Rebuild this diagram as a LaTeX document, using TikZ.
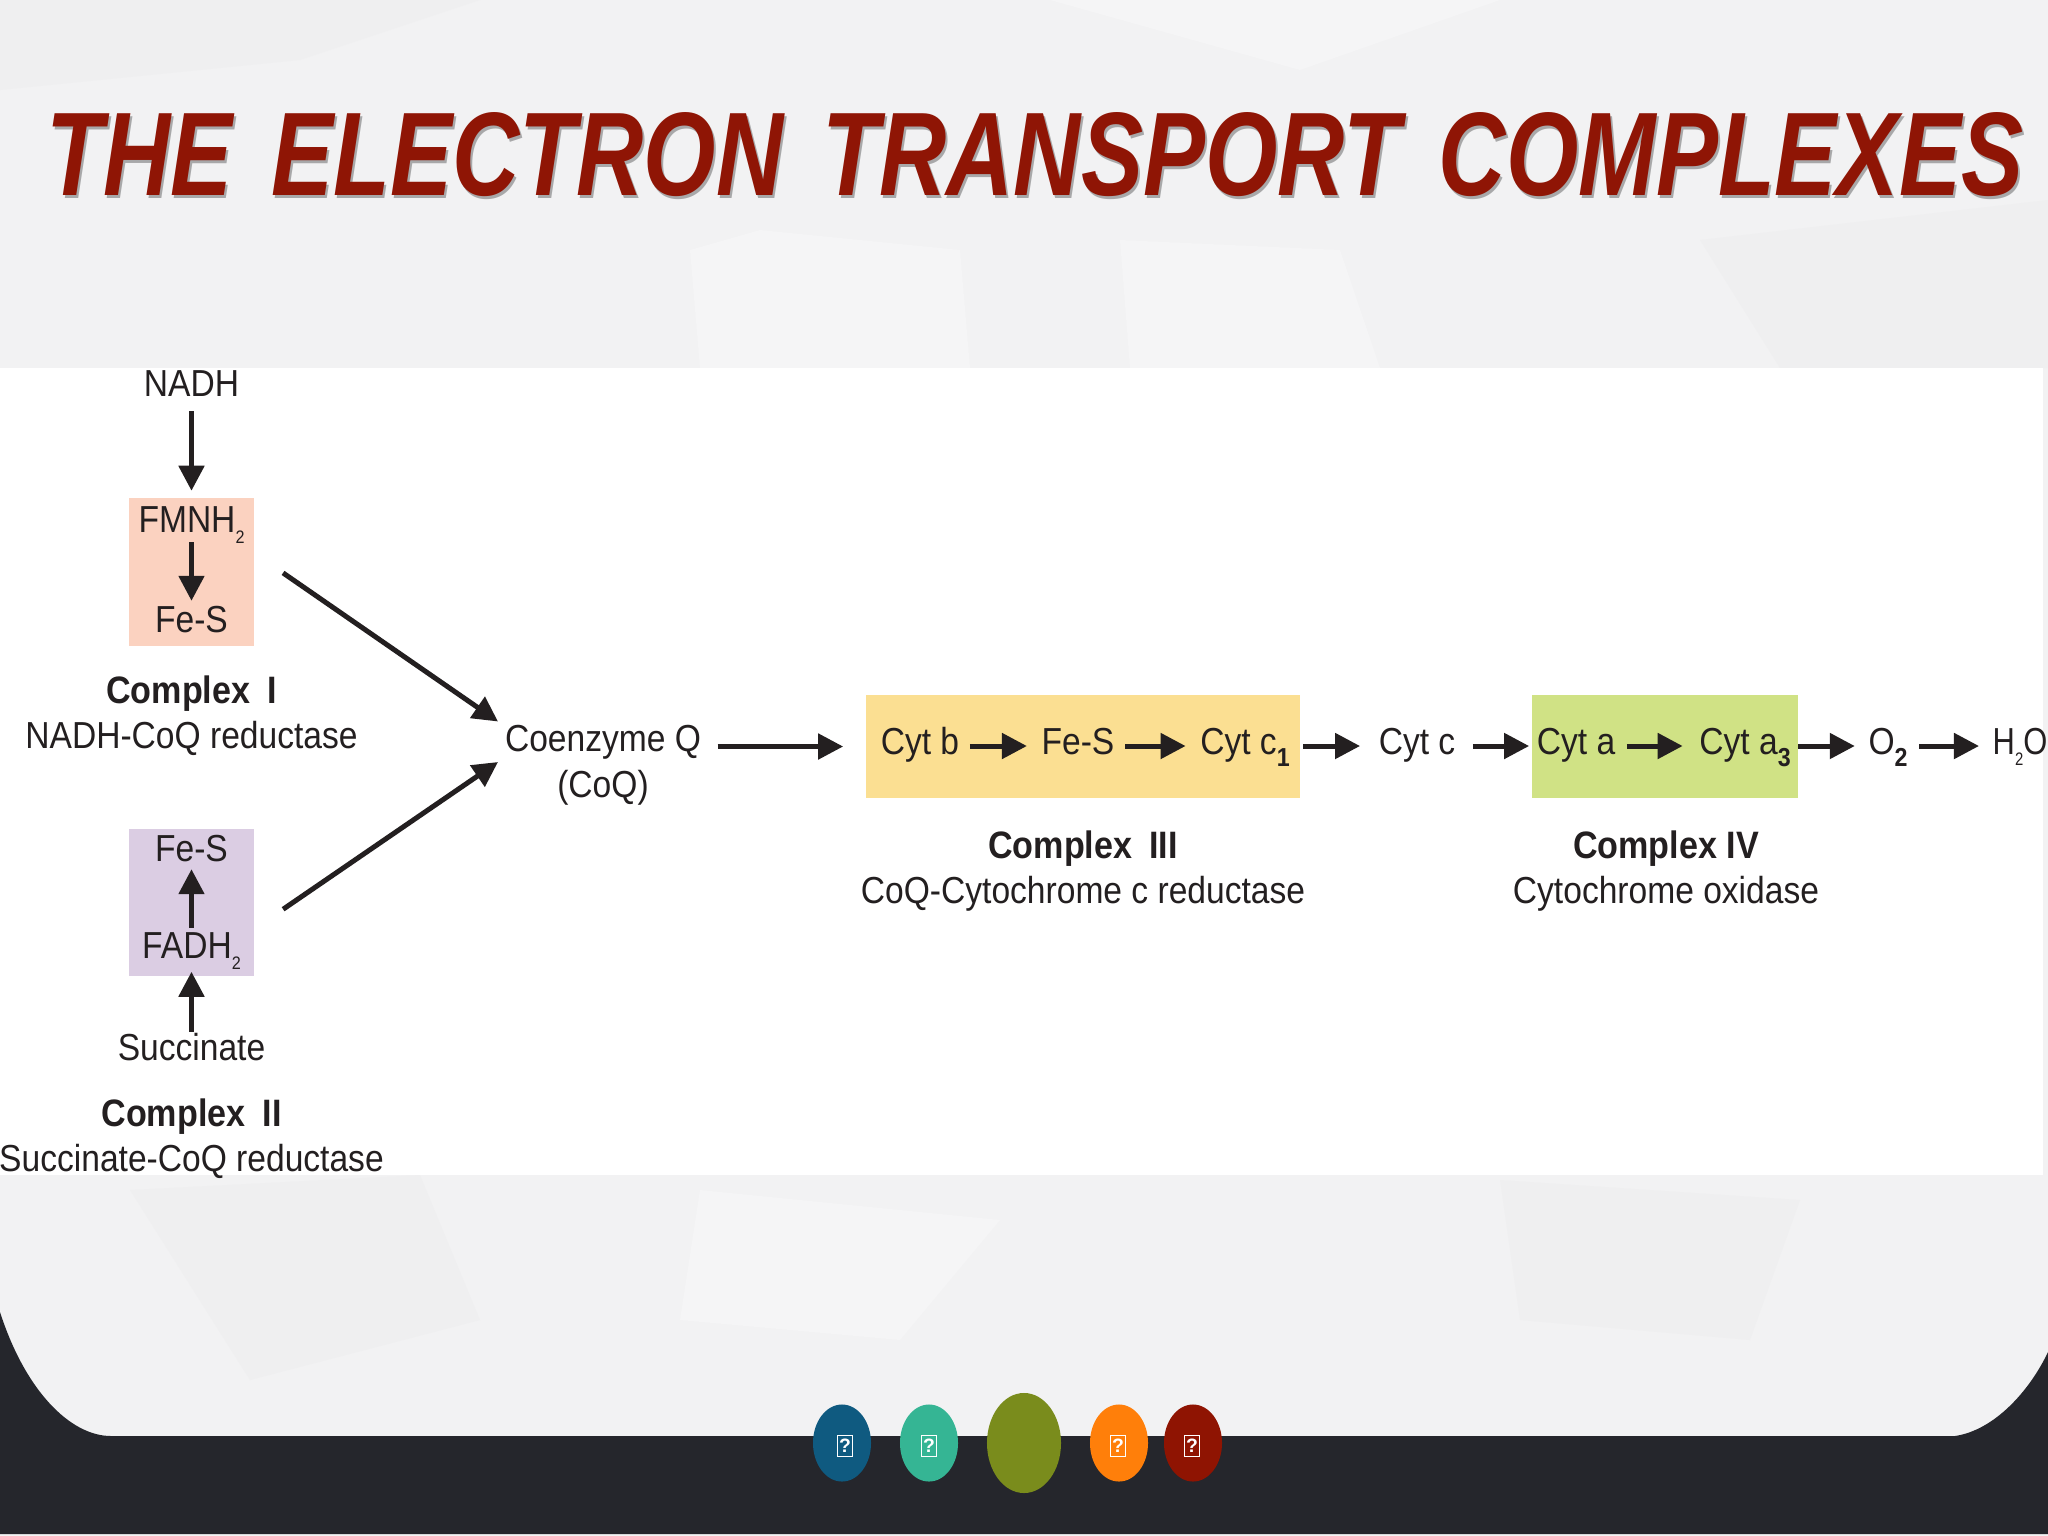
\documentclass[tikz,border=0pt]{standalone}
\usepackage{fontspec}
\setmainfont{Liberation Sans}
\usetikzlibrary{arrows.meta,shapes.geometric}
\definecolor{pagebg}{HTML}{F2F2F3}
\definecolor{facetA}{HTML}{F5F5F6}
\definecolor{facetB}{HTML}{EFEFF0}
\definecolor{band}{HTML}{25262C}
\definecolor{ink}{HTML}{231F20}
\definecolor{titlered}{HTML}{8F1505}
\definecolor{salmon}{HTML}{FBD2C0}
\definecolor{lilac}{HTML}{DBCDE3}
\definecolor{straw}{HTML}{FBDF92}
\definecolor{lime}{HTML}{D0E285}
\definecolor{btnblue}{HTML}{0F5A80}
\definecolor{btngreen}{HTML}{35B594}
\definecolor{btnolive}{HTML}{7A8C1C}
\definecolor{btnorange}{HTML}{FF7F0A}
\definecolor{btnred}{HTML}{8F1402}
\def\px{0.28453pt}
\newcommand\vt[1]{\scalebox{1}[1.12]{#1}}
\newcommand\thinsub[1]{\raisebox{-0.28em}{\fontsize{4.6}{5}\selectfont #1}}
\newcommand\boldsub[1]{\raisebox{-0.32em}{\fontsize{6.6}{7}\selectfont\bfseries #1}}
\newcommand\titletext{\resizebox{561.9pt}{23.6pt}{\bfseries\itshape THE\hspace{0.42em}ELECTRON\hspace{0.42em}TRANSPORT\hspace{0.42em}COMPLEXES}}
\tikzset{
  lbl/.style={inner sep=0pt,text=ink,text height=28*\px,text depth=7*\px,font=\fontsize{9.55}{11}\selectfont},
  link/.style={lbl,text depth=11*\px},
  head/.style={lbl,font=\fontsize{9.7}{11}\selectfont\bfseries},
  region/.style={inner sep=0pt,draw=none,minimum width=#1},
  arr/.style={draw=ink,line width=5*\px,-{Triangle[length=25*\px,width=25*\px]}},
  pill/.style={ellipse,inner sep=0pt,draw=none,minimum width=58*\px,minimum height=77*\px},
  tofu/.style={draw=white,line width=1.5*\px,text=white,inner sep=0pt,minimum width=15*\px,minimum height=21*\px,font=\fontsize{5.5}{6}\selectfont\bfseries}
}
\begin{document}
\begin{tikzpicture}[x=0.01cm,y=-0.01cm]
\useasboundingbox (0,0) rectangle (2048,1536);
% page
\fill[pagebg] (0,0) rectangle (2048,1536);
\fill[facetA] (690,250) -- (760,230) -- (960,250) -- (970,368) -- (700,368) -- cycle;
\fill[facetA] (1120,240) -- (1340,250) -- (1380,368) -- (1130,368) -- cycle;
\fill[facetB] (0,0) -- (480,0) -- (300,60) -- (0,90) -- cycle;
\fill[facetA] (1050,0) -- (1500,0) -- (1300,70) -- cycle;
\fill[facetB] (1700,240) -- (2048,200) -- (2048,368) -- (1780,368) -- cycle;
\fill[facetB] (130,1190) -- (420,1175) -- (480,1320) -- (250,1380) -- cycle;
\fill[facetA] (700,1190) -- (1000,1220) -- (900,1340) -- (680,1320) -- cycle;
\fill[facetB] (1500,1180) -- (1800,1200) -- (1750,1340) -- (1520,1320) -- cycle;
% dark band
\fill[band] (0,1312) .. controls (25,1390) and (70,1436) .. (111,1436) -- (1955,1436) .. controls (1995,1430) and (2030,1390) .. (2048,1352) -- (2048,1534) -- (0,1534) -- cycle;
% white panel
\fill[white] (0,368) rectangle (2043,1175);
% title
\node[inner sep=0pt,text=black,opacity=.3] (titleshadow) at (1037,158) {\titletext};
\node[inner sep=0pt,text=titlered] (title) at (1035,155) {\titletext};
% coloured regions
\node[region=124*\px,minimum height=147*\px,fill=salmon] (box1) at (191.5,572) {};
\node[region=124*\px,minimum height=147*\px,fill=lilac] (box2) at (191.5,902.5) {};
\node[region=434*\px,minimum height=103*\px,fill=straw] (box3) at (1083,746.5) {};
\node[region=266*\px,minimum height=103*\px,fill=lime] (box4) at (1665,746.5) {};
% left column
\node[lbl] (nadh) at (191.5,386) {\vt{NADH}};
\node[lbl] (fmnh) at (191.5,522) {\vt{FMNH\thinsub{2}}};
\node[lbl] (fes1) at (191.5,622) {\vt{Fe-S}};
\node[head] (c1h) at (191.5,693) {\vt{Complex\hspace{0.5em}I}};
\node[lbl] (c1n) at (191.5,738) {\vt{NADH-CoQ reductase}};
\node[lbl] (fes2) at (191.5,851) {\vt{Fe-S}};
\node[lbl] (fadh) at (191.5,948) {\vt{FADH\thinsub{2}}};
\node[lbl] (succ) at (191.5,1050) {\vt{Succinate}};
\node[head] (c2h) at (191.5,1116) {\vt{Complex\hspace{0.5em}II}};
\node[lbl] (c2n) at (191.5,1161) {\vt{Succinate-CoQ reductase}};
% coenzyme Q
\node[lbl] (coq) at (603,741) {\vt{Coenzyme Q}};
\node[lbl] (coqb) at (603,787) {\vt{(CoQ)}};
% chain
\node[link] (cytb) at (920,746) {\vt{Cyt b}};
\node[link] (fes3) at (1078,746) {\vt{Fe-S}};
\node[link] (cytc1) at (1245,746) {\vt{Cyt c\boldsub{1}}};
\node[link] (cytc) at (1417,746) {\vt{Cyt c}};
\node[link] (cyta) at (1576,746) {\vt{Cyt a}};
\node[link] (cyta3) at (1745,746) {\vt{Cyt a\boldsub{3}}};
\node[link] (otwo) at (1888,746) {\vt{O\boldsub{2}}};
\node[link] (water) at (2020,746) {\scalebox{0.92}[1]{\vt{H\thinsub{2}O}}};
\node[head] (c3h) at (1083,848) {\vt{Complex\hspace{0.5em}III}};
\node[lbl] (c3n) at (1083,893) {\vt{CoQ-Cytochrome c reductase}};
\node[head] (c4h) at (1666,848) {\vt{Complex IV}};
\node[lbl] (c4n) at (1666,893) {\vt{Cytochrome oxidase}};
% connectors, left column
\draw[arr,shorten <=7*\px,shorten >=7*\px] (nadh.south) -- (box1.north);
\draw[arr,shorten <=2*\px,shorten >=3*\px] (fmnh.south) -- (fes1.north);
\draw[arr,shorten <=2*\px,shorten >=0*\px] (fadh.north) -- (fes2.south);
\draw[arr,shorten <=0*\px,shorten >=-5*\px] (succ.north) -- (box2.south);
\coordinate (tipa) at (498,721.5);
\coordinate (tipb) at (498,762);
\draw[arr,shorten <=35*\px] ([yshift=19*\px]box1.east) -- (tipa);
\draw[arr,shorten <=35*\px] ([yshift=-26.5*\px]box2.east) -- (tipb);
% connectors, chain
\draw[arr,shorten <=16*\px,shorten >=22*\px] (coq.east |- box3.west) -- (box3.west);
\draw[arr,shorten <=10*\px,shorten >=14*\px] (cytb.east) -- (fes3.west);
\draw[arr,shorten <=10*\px,shorten >=14*\px] (fes3.east) -- (cytc1.west);
\draw[arr,shorten <=13*\px,shorten >=18*\px] (cytc1.east) -- (cytc.west);
\draw[arr,shorten <=17*\px,shorten >=7*\px] (cytc.east) -- (cyta.west);
\draw[arr,shorten <=11*\px,shorten >=16*\px] (cyta.east) -- (cyta3.west);
\draw[arr,shorten <=7*\px,shorten >=13*\px] (cyta3.east) -- (otwo.west);
\draw[arr,shorten <=11*\px,shorten >=13*\px] (otwo.east) -- (water.west);
% footer buttons
\node[pill,fill=btnblue] (btna) at (842,1443) {};
\node[pill,fill=btngreen] (btnb) at (929,1443) {};
\node[pill,fill=btnolive,minimum width=74*\px,minimum height=100*\px] (btnc) at (1024,1443) {};
\node[pill,fill=btnorange] (btnd) at (1119,1443) {};
\node[pill,fill=btnred] (btne) at (1193,1443) {};
\node[tofu] (icona) at (845,1446) {?};
\node[tofu] (iconb) at (929,1446) {?};
\node[tofu] (icond) at (1118,1446) {?};
\node[tofu] (icone) at (1192,1446) {?};
\end{tikzpicture}
\end{document}
